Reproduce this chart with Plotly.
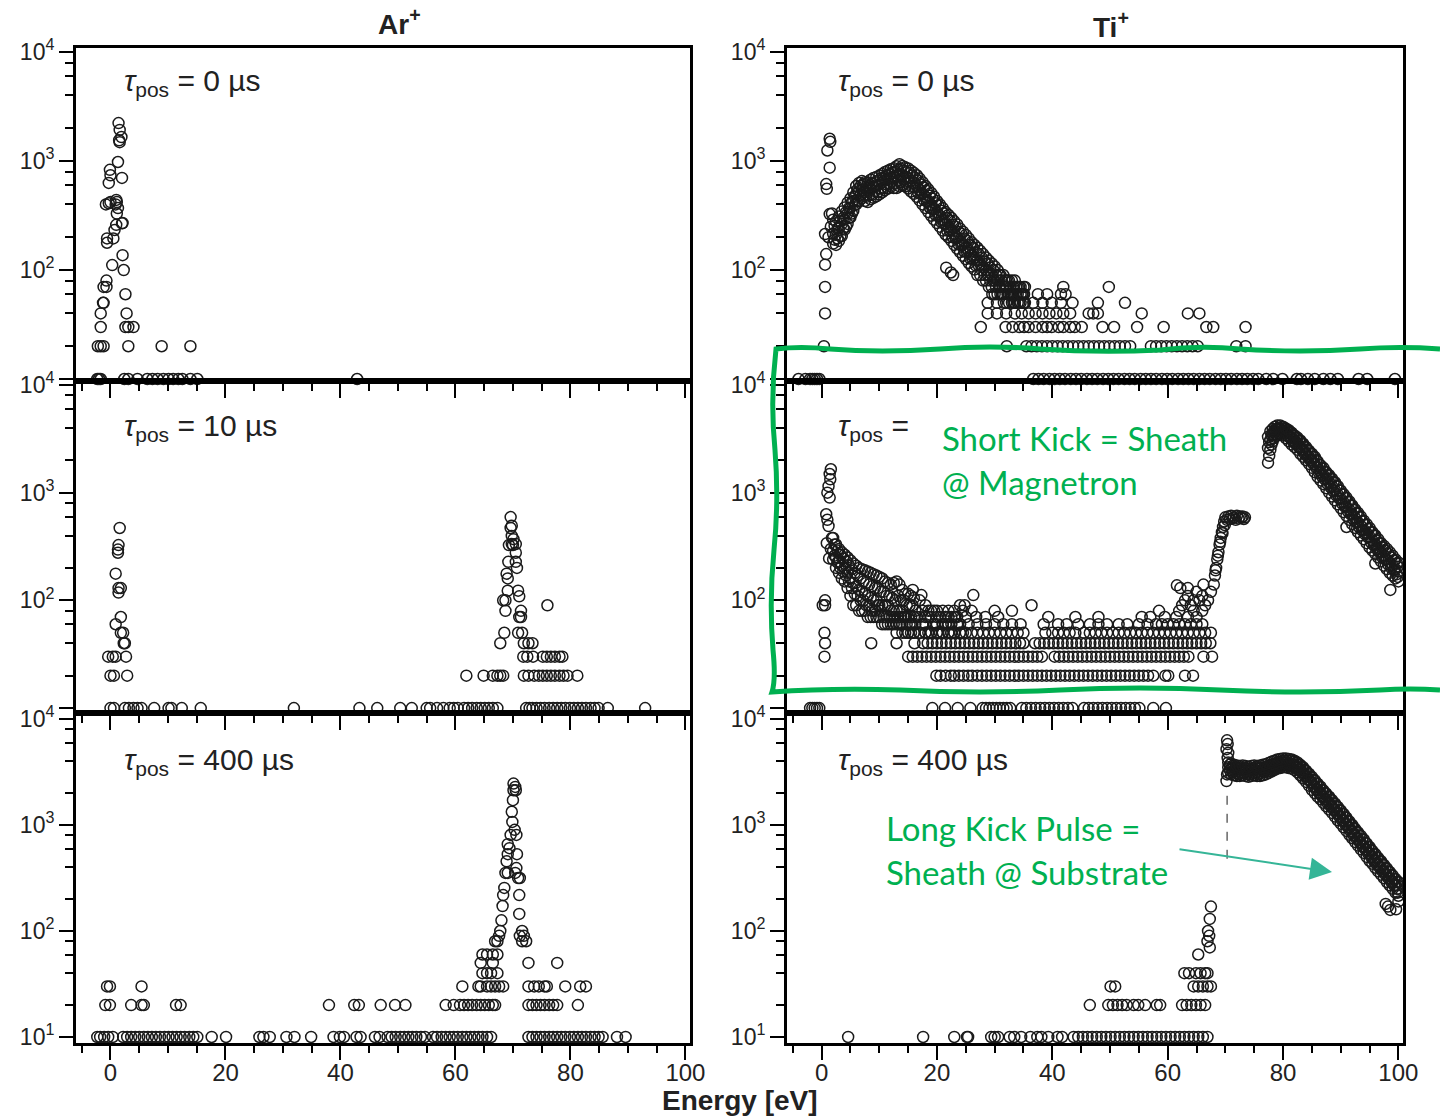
import plotly.graph_objects as go

# ---------------- DATA ----------------
# Ar+  tau_pos = 0 us
ar0_x10 = [-2.3, -2.0, -1.7, 2.4, 3.1, 4.7, 6.4, 7.3, 8.2, 9.2, 10.1, 10.9, 11.8, 12.5, 13.9, 15.1, 42.9]
ar0_x20 = [-2.2, -1.7, -1.2, 3.1, 8.9, 13.9]
ar0_x30 = [-1.7, 2.6, 3.1, 4.0]
ar0_px = [-1.7, 2.8, -1.3, -1.2, 2.6, -1.2, -0.7, -0.7, 2.3, 0.3, 2.1, -0.6, 0.5, -0.6, 0.7, 2.0, 1.0, 1.1,
          1.3, -0.8, -0.3, 0.9, 0.0, 1.1, 1.0, -0.3, 2.0, 0.0, -0.1, 1.3, 1.6, 1.9, 1.6, 1.4, 1.5, 2.1]
ar0_py = [40, 40, 50, 50, 60, 70, 70, 80, 100, 111, 137, 195, 195, 178, 233, 268, 260, 330,
          370, 400, 410, 400, 420, 420, 440, 630, 700, 740, 830, 980, 1490, 1660, 1930, 2230, 1550, 270]

# Ar+  tau_pos = 10 us
ar10_x10 = [0, 0.6, 2.5, 3.2, 4.0, 4.7, 5.4, 7.6, 10.1, 10.6, 12.4, 15.7, 31.9, 43.3, 46.4, 50.4, 52.4, 55.0,
            55.6, 56.8, 57.9, 59.0, 59.7, 60.4, 61.5, 62.2, 62.9, 63.7, 64.4, 65.1, 65.8, 66.5, 67.3, 72.3,
            72.9, 73.4, 74.1, 74.8, 75.5, 76.3, 77.0, 77.7, 78.4, 79.1, 79.9, 80.6, 81.3, 82.0, 82.7, 83.5,
            84.2, 84.9, 86.5, 93.0]
ar10_x20 = [0, 0.6, 2.9, 61.9, 64.9, 66.5, 67.3, 67.8, 68.3, 71.9, 72.7, 73.7, 74.5, 75.2, 75.9, 76.6, 77.3,
            78.1, 78.8, 79.5, 81.2]
ar10_x30 = [-0.4, 0.4, 0.9, 2.7, 71.8, 72.5, 73.5, 75.2, 75.9, 76.6, 77.3, 78.1, 78.6]
ar10_x40 = [2.3, 2.5, 67.8, 71.9, 72.7, 73.4]
ar10_px = [1.8, 2.2, 68.5, 70.9, 71.6, 0.9, 1.8, 71.1, 71.4, 68.7, 71.4, 76.0, 68.3, 68.7, 71.1, 69.1, 70.9,
           1.4, 1.8, 1.4, 0.9, 68.9, 69.1, 70.7, 69.2, 70.5, 1.3, 70.5, 1.3, 1.4, 69.3, 70.0, 69.8, 70.5,
           69.8, 1.6, 69.6, 69.8, 69.6, 70.1]
ar10_py = [50, 50, 50, 50, 50, 60, 70, 70, 70, 80, 80, 90, 100, 100, 109, 123, 123,
           130, 130, 118, 177, 177, 160, 200, 228, 228, 277, 277, 296, 326, 326, 326, 333, 333,
           397, 470, 470, 494, 593, 370]

# Ar+  tau_pos = 400 us
ar400_x10 = [-2.3, -1.8, -1.1, -0.4, 0.4, 2.2, 2.9, 3.6, 4.3, 5.0, 5.8, 6.5, 7.2, 7.9, 8.6, 9.4, 10.1, 10.8,
             11.5, 12.2, 12.9, 13.7, 14.4, 15.1, 17.6, 20.1, 25.9, 26.6, 27.7, 30.6, 32.0, 34.9, 38.8, 39.9,
             40.6, 42.8, 43.5, 46.0, 46.8, 48.2, 48.9, 49.6, 50.4, 51.1, 51.8, 52.5, 53.2, 54.0, 54.7, 56.1,
             56.8, 57.6, 58.3, 59.0, 59.7, 60.4, 61.2, 61.9, 62.6, 63.3, 64.0, 64.7, 65.5, 66.2, 72.7, 73.4,
             74.1, 74.8, 75.5, 76.3, 77.0, 77.7, 78.4, 79.1, 79.9, 80.6, 81.3, 82.0, 82.7, 83.5, 84.2, 84.9,
             85.6, 88.1, 89.6]
ar400_x20 = [-0.9, -0.1, 3.6, 5.4, 5.8, 11.4, 12.2, 38.0, 42.4, 43.2, 47.0, 49.5, 51.3, 58.3, 59.7, 60.8,
             61.5, 62.2, 62.9, 63.7, 64.4, 65.1, 65.8, 66.5, 66.9, 72.7, 73.4, 74.1, 74.8, 75.5, 76.3, 77.0,
             77.7, 81.3]
ar400_x30 = [-0.6, -0.1, 5.4, 61.2, 64.0, 64.4, 65.5, 66.2, 66.9, 67.6, 68.3, 72.7, 73.7, 74.5, 75.5, 75.9,
             79.1, 81.7, 82.7]
ar400_x40 = [64.7, 65.5, 66.2, 67.3]
ar400_x50 = [64.4, 66.5, 77.7, 72.7]
ar400_px = [64.7, 65.5, 66.5, 67.3, 66.9, 67.3, 71.6, 72.3, 67.6, 71.2, 71.9, 67.8, 71.6, 68.0, 71.1, 68.2,
            68.3, 71.1, 68.5, 70.9, 71.2, 68.7, 69.1, 70.4, 70.6, 68.9, 69.1, 70.7, 69.4, 69.1, 69.6, 70.6,
            69.9, 70.3, 69.8, 70.0, 70.1, 70.5, 70.4, 70.1]
ar400_py = [60, 60, 60, 60, 80, 80, 80, 80, 90, 90, 90, 100, 100, 126, 145, 172,
            218, 218, 255, 316, 316, 353, 353, 353, 392, 454, 531, 531, 605, 659, 806, 806,
            1070, 900, 1333, 1716, 2130, 2130, 2290, 2460]

# Ti+  tau_pos = 0 us
ti0_bx = [2.0, 2.5, 3.0, 3.5, 4.0, 4.5, 5.0, 5.5, 6.0, 6.5, 7.0, 7.5, 8.0, 8.5, 9.0, 9.5, 10.0, 10.5, 11.0,
          11.5, 12.0, 12.5, 13.0, 13.5, 14.0, 14.5, 15.0, 15.5, 16.0, 16.5, 17.0, 17.5, 18.0, 18.5, 19.0,
          19.5, 20.0, 20.5, 21.0, 21.5, 22.0, 22.5, 23.0, 23.5, 24.0, 24.5, 25.0, 25.5, 26.0, 26.5, 27.0,
          27.5, 28.0, 28.5, 29.0, 29.5, 30.0, 30.5, 31.0, 31.5, 32.0, 32.5, 33.0, 33.5, 34.0, 34.5, 35.0]
ti0_bx2 = [2.25, 2.75, 3.25, 3.75, 4.25, 4.75, 5.25, 5.75, 6.25, 6.75, 7.25, 7.75, 8.25, 8.75, 9.25, 9.75,
           10.25, 10.75, 11.25, 11.75, 12.25, 12.75, 13.25, 13.75, 14.25, 14.75, 15.25, 15.75, 16.25, 16.75,
           17.25, 17.75, 18.25, 18.75, 19.25, 19.75, 20.25, 20.75, 21.25, 21.75, 22.25, 22.75, 23.25, 23.75,
           24.25, 24.75, 25.25, 25.75, 26.25, 26.75, 27.25, 27.75, 28.25, 28.75, 29.25, 29.75, 30.25, 30.75,
           31.25, 31.75, 32.25, 32.75, 33.25, 33.75, 34.25, 34.75, 35.25]
ti0_lo = [175, 170, 185, 205, 235, 265, 305, 350, 400, 430, 455, 430, 420, 445, 460, 475, 495, 515, 540, 560,
          580, 565, 565, 585, 600, 585, 560, 525, 500, 470, 435, 400, 370, 340, 315, 290, 270, 250, 230, 212,
          200, 185, 170, 157, 146, 135, 126, 116, 108, 101, 90, 90, 80, 80, 70, 70, 60, 60, 60, 60, 50, 50,
          50, 50, 50, 50, 50]
ti0_q1 = [190, 195, 205, 240, 250, 300, 330, 395, 440, 490, 480, 470, 485, 490, 530, 520, 560, 570, 610, 620,
          650, 620, 660, 640, 680, 630, 640, 580, 570, 510, 500, 440, 425, 375, 360, 320, 310, 275, 265, 230,
          228, 200, 195, 172, 168, 148, 145, 128, 125, 110, 110, 100, 90, 90, 80, 80, 70, 70, 60, 70, 60, 60,
          50, 60, 50, 60, 50]
ti0_mid = [215, 210, 240, 265, 290, 330, 370, 430, 500, 530, 540, 520, 530, 550, 580, 600, 610, 640, 670, 690,
           700, 720, 740, 760, 740, 720, 700, 660, 630, 590, 545, 505, 470, 430, 395, 365, 340, 315, 290, 265,
           250, 235, 215, 200, 185, 172, 160, 150, 138, 130, 122, 114, 106, 100, 90, 90, 80, 80, 70, 70, 70,
           60, 60, 60, 60, 60, 60]
ti0_q3 = [255, 240, 280, 300, 340, 370, 420, 470, 550, 590, 610, 570, 590, 620, 640, 660, 690, 700, 740, 760,
          780, 800, 830, 850, 820, 790, 780, 735, 700, 660, 610, 570, 530, 480, 450, 410, 390, 350, 330, 300,
          285, 260, 250, 225, 215, 195, 185, 170, 160, 145, 140, 130, 120, 115, 105, 100, 90, 90, 80, 80, 80,
          70, 70, 70, 70, 60, 70]
ti0_hi = [290, 280, 310, 345, 375, 415, 455, 515, 590, 630, 655, 640, 635, 675, 700, 715, 735, 760, 795, 815,
          840, 860, 895, 935, 900, 875, 855, 815, 780, 740, 690, 640, 590, 550, 510, 470, 430, 400, 370, 340,
          320, 300, 280, 262, 240, 225, 210, 195, 180, 170, 160, 150, 140, 130, 122, 115, 108, 100, 90, 90,
          80, 80, 80, 80, 70, 70, 70]
ti0_px = [1.4, 1.5, 1.0, 1.4, 0.8, 0.9, 1.4, 0.6, 0.8, 0.6, 0.6, 0.6, 0.4, 1.6, 1.2, 1.8, 21.6, 22.4, 22.8]
ti0_py = [1600, 1500, 1250, 870, 615, 556, 326, 214, 140, 112, 70, 40, 20, 250, 200, 330, 105, 95, 90]
ti0_x10 = [-4.0, -2.8, -2.0, -1.6, -1.2, -0.8, -0.4, 36.7, 37.6, 38.5, 39.5, 40.4, 41.3, 42.2, 43.2, 44.1,
           45.0, 46.0, 46.9, 47.8, 48.8, 49.7, 50.6, 51.5, 52.5, 53.4, 54.3, 55.3, 56.2, 57.1, 58.0, 59.0,
           59.9, 60.8, 61.8, 62.7, 63.6, 64.5, 65.5, 66.4, 67.3, 68.3, 69.2, 70.1, 71.0, 72.0, 72.9, 73.8,
           74.8, 75.7, 77.1, 78.3, 79.9, 82.4, 83.1, 84.3, 85.5, 87.0, 88.2, 89.5, 93.1, 94.6, 99.4]
ti0_x20 = [32.1, 35.5, 36.4, 37.3, 38.2, 39.1, 40.0, 40.9, 41.8, 42.7, 43.6, 44.5, 45.4, 46.3, 47.2, 48.1,
           49.0, 49.9, 50.8, 51.7, 52.6, 53.5, 57.1, 58.0, 58.9, 59.8, 60.7, 61.6, 62.5, 63.4, 64.3, 65.2,
           71.9, 73.5]
ti0_x30 = [27.6, 31.9, 33.1, 34.3, 35.1, 35.9, 37.1, 38.3, 39.1, 39.9, 41.1, 41.9, 43.1, 43.9, 45.1, 48.7,
           50.7, 54.7, 59.3, 66.7, 67.9, 73.5]
ti0_x40 = [28.8, 30.4, 32.0, 33.5, 34.7, 35.9, 37.1, 38.3, 39.5, 40.7, 41.9, 43.1, 46.3, 47.1, 47.9, 55.5,
           63.5, 65.5]
ti0_x50 = [28.8, 30.4, 31.6, 33.5, 35.1, 36.7, 38.3, 39.9, 41.5, 43.5, 47.9, 52.6]
ti0_x60 = [29.6, 32.3, 35.1, 37.5, 39.1, 41.5, 42.3]
ti0_x70 = [41.9, 49.8]

# Ti+  tau_pos = 10 us
ti10_bx = [2.0, 2.5, 3.0, 3.5, 4.0, 4.5, 5.0, 5.5, 6.0, 6.5, 7.0, 7.5, 8.0, 8.5, 9.0, 9.5, 10.0, 10.5, 11.0,
           11.5, 12.0, 12.5, 13.0, 13.5, 14.0, 14.5, 15.0, 15.5, 16.0, 17.0, 18.0, 19.0, 20.0, 21.0, 22.0,
           23.0, 24.0]
ti10_bx2 = [2.25, 2.75, 3.25, 3.75, 4.25, 4.75, 5.25, 5.75, 6.25, 6.75, 7.25, 7.75, 8.25, 8.75, 9.25, 9.75,
            10.25, 10.75, 11.25, 11.75, 12.25, 12.75, 13.25, 13.75, 14.25, 14.75, 15.25, 15.75, 16.25, 17.5,
            18.5, 19.5, 20.5, 21.5, 22.5, 23.5, 24.5]
ti10_lo = [240, 200, 180, 160, 150, 130, 110, 90, 90, 80, 80, 80, 70, 70, 70, 70, 70, 60, 60, 60, 60, 60, 60,
           60, 60, 50, 50, 50, 50, 50, 50, 50, 50, 50, 50, 50, 50]
ti10_q1 = [260, 225, 200, 185, 170, 150, 130, 115, 110, 100, 100, 90, 90, 80, 80, 90, 80, 70, 70, 70, 70, 70,
           70, 70, 70, 60, 60, 60, 60, 60, 50, 60, 50, 60, 50, 60, 50]
ti10_mid = [290, 250, 230, 210, 200, 180, 160, 145, 135, 125, 120, 115, 110, 105, 100, 100, 90, 90, 90, 90,
            80, 80, 80, 80, 80, 70, 70, 70, 70, 70, 60, 70, 60, 60, 60, 70, 60]
ti10_q3 = [330, 290, 265, 245, 230, 210, 195, 180, 170, 160, 150, 145, 140, 135, 130, 130, 120, 120, 110, 110,
           105, 100, 110, 100, 100, 90, 90, 90, 80, 80, 70, 80, 70, 70, 70, 70, 80]
ti10_hi = [380, 330, 300, 280, 265, 250, 235, 220, 210, 200, 195, 190, 185, 180, 175, 170, 165, 160, 150, 145,
           140, 145, 150, 140, 125, 115, 115, 110, 105, 100, 90, 80, 80, 80, 70, 80, 90]
ti10_px = [1.6, 1.4, 1.5, 1.2, 1.0, 1.4, 0.8, 1.0, 1.2, 0.9, 1.3, 0.6, 0.6, 0.5, 0.6, 0.5, 1.8, 1.6,
           15.8, 17.3, 26.3, 24.8, 36.4, 61.6, 62.2, 0.2,
           62.5, 63.0, 63.5, 64.0, 64.5, 65.0, 65.5, 66.0, 66.5, 67.0, 67.5, 68.0, 68.2, 68.4, 68.6, 68.8,
           69.0, 69.2, 69.4, 69.6, 69.8, 70.0, 70.5, 71.0, 71.5, 72.0, 72.5, 73.0, 73.4, 63.5, 66.2,
           68.3, 68.7, 69.1, 69.5, 69.9, 70.3, 70.8, 71.3, 71.8, 72.3, 72.8, 73.2]
ti10_py = [1650, 1490, 1330, 1150, 1000, 900, 630, 560, 490, 340, 245, 100, 90, 50, 40, 30, 380, 300,
           125, 112, 112, 90, 90, 138, 130, 90,
           90, 100, 110, 90, 100, 120, 100, 110, 90, 100, 120, 140, 170, 200, 240, 280,
           330, 380, 430, 480, 540, 590, 600, 610, 590, 610, 600, 600, 590, 130, 140,
           190, 260, 350, 420, 500, 560, 570, 580, 560, 575, 585, 570]
ti10r_x = [77.4, 77.8, 78.2, 78.6, 79.0, 79.5, 80.0, 80.5, 81.0, 81.5, 82.0, 82.5, 83.0, 83.5, 84.0, 84.5,
           85.0, 85.5, 86.0, 86.5, 87.0, 87.5, 88.0, 88.5, 89.0, 89.5, 90.0, 90.5, 91.0, 91.5, 92.0, 92.5,
           93.0, 93.5, 94.0, 94.5, 95.0, 95.5, 96.0, 96.5, 97.0, 97.5, 98.0, 98.5, 99.0, 99.5, 100.0]
ti10r_x2 = [77.6, 78.0, 78.4, 78.8, 79.25, 79.75, 80.25, 80.75, 81.25, 81.75, 82.25, 82.75, 83.25, 83.75,
            84.25, 84.75, 85.25, 85.75, 86.25, 86.75, 87.25, 87.75, 88.25, 88.75, 89.25, 89.75, 90.25, 90.75,
            91.25, 91.75, 92.25, 92.75, 93.25, 93.75, 94.25, 94.75, 95.25, 95.75, 96.25, 96.75, 97.25, 97.75,
            98.25, 98.75, 99.25, 99.75, 99.9]
ti10r_lo = [1900, 2500, 3000, 3300, 3400, 3500, 3400, 3200, 3000, 2800, 2650, 2500, 2300, 2150, 2000, 1850,
            1700, 1550, 1400, 1300, 1200, 1100, 1000, 920, 850, 780, 720, 660, 610, 560, 510, 470, 430, 400,
            370, 340, 310, 290, 270, 250, 230, 210, 195, 180, 170, 160, 150]
ti10r_q1 = [2200, 2800, 3200, 3500, 3600, 3650, 3600, 3350, 3250, 2950, 2850, 2650, 2500, 2300, 2150, 2000,
            1850, 1700, 1520, 1420, 1330, 1200, 1120, 1030, 940, 880, 790, 740, 670, 630, 560, 530, 475, 445,
            410, 385, 345, 325, 300, 280, 250, 240, 215, 200, 190, 175, 165]
ti10r_mid = [2600, 3100, 3500, 3700, 3800, 3900, 3800, 3600, 3400, 3200, 3000, 2850, 2650, 2500, 2300, 2150,
             2000, 1850, 1700, 1550, 1450, 1350, 1250, 1150, 1050, 960, 880, 810, 740, 690, 630, 580, 530,
             490, 450, 420, 390, 360, 330, 300, 280, 260, 240, 225, 210, 195, 185]
ti10r_q3 = [2950, 3400, 3700, 3900, 4000, 4050, 3950, 3800, 3600, 3400, 3200, 3050, 2850, 2650, 2500, 2300,
            2150, 2000, 1820, 1680, 1560, 1450, 1350, 1250, 1150, 1050, 960, 890, 820, 760, 690, 640, 590,
            540, 500, 460, 430, 400, 360, 340, 310, 290, 270, 250, 235, 220, 205]
ti10r_hi = [3300, 3700, 3900, 4100, 4200, 4200, 4100, 3950, 3800, 3600, 3400, 3250, 3050, 2850, 2650, 2450,
            2300, 2150, 1950, 1800, 1700, 1550, 1450, 1350, 1250, 1150, 1050, 970, 900, 830, 760, 700, 650,
            600, 550, 510, 470, 430, 400, 370, 340, 320, 300, 280, 260, 240, 225]
ti10r_px = [91.0, 98.6, 96.0]
ti10r_py = [480, 125, 220]
ti10_x10 = [-2.0, -1.6, -1.2, -0.8, -0.4, 19.2, 21.4, 23.6, 25.8, 27.9, 28.5, 29.1, 29.7, 30.3, 30.9, 31.5,
            32.1, 32.7, 34.7, 35.5, 36.3, 37.1, 37.9, 38.7, 39.5, 40.3, 41.1, 41.9, 42.7, 43.5, 45.5, 46.3,
            47.1, 47.9, 48.7, 49.5, 50.3, 51.1, 51.9, 52.7, 53.5, 54.3, 55.1, 57.5, 59.7]
ti10_x20 = [19.9, 20.6, 21.5, 22.4, 23.0, 23.8, 24.6, 25.4, 26.1, 27.0, 27.8, 28.6, 29.4, 30.2, 31.0, 31.8,
            32.6, 33.4, 34.2, 35.0, 35.8, 36.6, 37.4, 38.2, 39.0, 39.8, 40.6, 41.4, 42.2, 43.0, 43.8, 44.6,
            45.4, 46.2, 47.0, 47.8, 48.6, 49.4, 50.2, 51.0, 51.8, 52.6, 53.4, 54.2, 55.0, 55.8, 56.6, 57.5,
            59.6, 60.1, 63.0, 64.4]
ti10_x30 = [15.0, 15.8, 16.6, 17.4, 18.2, 19.0, 19.8, 20.6, 21.4, 22.2, 23.0, 23.8, 24.6, 25.4, 26.2, 27.0,
            27.8, 28.6, 29.4, 30.2, 31.0, 31.8, 32.6, 33.4, 34.2, 35.0, 35.8, 36.6, 37.4, 38.2, 40.4, 41.2,
            42.0, 42.8, 43.6, 44.4, 45.2, 46.0, 46.8, 47.6, 48.4, 49.2, 50.0, 50.8, 51.6, 52.4, 53.2, 54.0,
            54.8, 55.6, 56.4, 57.2, 58.0, 58.8, 59.6, 60.4, 61.2, 62.0, 62.8, 63.6, 66.2, 67.7]
ti10_x40 = [8.6, 13.0, 16.1, 17.6, 18.4, 19.2, 20.0, 20.8, 21.6, 22.4, 23.2, 24.0, 24.8, 25.6, 26.4, 27.2,
            28.0, 28.8, 29.6, 30.4, 31.2, 32.0, 32.8, 33.6, 34.4, 35.0, 37.0, 37.8, 38.6, 39.4, 40.2, 41.0,
            41.8, 42.6, 43.4, 44.2, 45.0, 45.8, 46.6, 47.4, 48.2, 49.0, 49.8, 50.6, 51.4, 52.2, 53.0, 53.8,
            54.6, 55.4, 56.2, 57.0, 57.8, 58.6, 59.4, 60.2, 61.0, 61.8, 62.6, 63.4, 64.2, 65.0, 65.8, 66.6,
            67.4]
ti10_x50 = [13.0, 14.0, 15.0, 16.0, 17.0, 18.0, 19.0, 20.0, 21.0, 22.0, 23.0, 24.0, 25.0, 26.0, 27.0, 28.0,
            29.0, 30.0, 31.0, 32.0, 33.0, 34.0, 35.0, 38.8, 40.0, 41.0, 42.0, 43.0, 44.0, 45.5, 46.5, 47.5,
            48.5, 49.5, 50.5, 51.5, 52.5, 53.5, 54.5, 55.5, 56.5, 57.5, 58.5, 59.5, 60.5, 61.5, 62.5, 63.5,
            64.5, 65.5, 66.5, 67.5]
ti10_x60 = [13.5, 15.5, 17.5, 19.5, 21.0, 22.5, 24.0, 25.5, 27.0, 28.5, 30.0, 31.5, 33.0, 34.5, 38.5, 41.0,
            42.5, 44.5, 46.5, 48.0, 49.5, 51.5, 53.0, 55.0, 56.5, 58.0, 59.0, 60.0, 61.0, 62.0, 63.0, 64.0,
            65.0, 66.0]
ti10_x70 = [14.5, 16.5, 18.0, 20.0, 21.5, 23.2, 25.0, 26.8, 28.4, 30.6, 39.3, 44.0, 48.0, 55.5, 57.0, 59.5,
            61.5, 63.5, 65.0]
ti10_x80 = [18.5, 22.0, 26.0, 30.0, 33.0, 58.5, 62.0, 64.5, 66.0]

# Ti+  tau_pos = 400 us
ti400_x10 = [4.6, 17.6, 23.0, 25.2, 25.4, 29.4, 30.0, 30.6, 32.6, 33.4, 34.6, 36.2, 37.4, 38.1, 39.3, 40.9,
             41.7, 43.7, 44.5, 45.3, 46.1, 46.9, 47.7, 48.5, 49.3, 50.1, 50.9, 51.7, 52.5, 53.3, 54.1, 54.9,
             55.7, 56.5, 57.3, 58.1, 58.9, 59.7, 60.5, 61.3, 62.1, 62.9, 63.7, 64.5, 65.3, 66.1, 66.9]
ti400_x20 = [46.5, 49.7, 50.5, 51.3, 52.1, 52.9, 54.1, 54.9, 56.1, 58.1, 58.7, 62.5, 63.3, 64.1, 64.9, 65.7,
             66.5]
ti400_x30 = [50.1, 50.9, 64.5, 65.3, 66.1, 66.9, 67.5]
ti400_x40 = [62.9, 63.7, 64.9, 65.7, 66.9]
ti400_px = [65.3, 67.3, 66.9, 67.0, 67.3, 67.5, 67.2, 66.5,
            70.3, 70.4, 70.2, 70.5, 70.3, 70.2, 70.4, 98.6, 98.2, 97.8, 99.6, 100.0]
ti400_py = [60, 70, 80, 100, 130, 170, 90, 40,
            6300, 5800, 5200, 4800, 3000, 2600, 4300, 158, 170, 180, 160, 190]
ti400_bx = [70.5, 71.0, 71.5, 72.0, 72.5, 73.0, 73.5, 74.0, 74.5, 75.0, 75.5, 76.0, 76.5, 77.0, 77.5, 78.0,
            78.5, 79.0, 79.5, 80.0, 80.5, 81.0, 81.5, 82.0, 82.5, 83.0, 83.5, 84.0, 84.5, 85.0, 85.5, 86.0,
            86.5, 87.0, 87.5, 88.0, 88.5, 89.0, 89.5, 90.0, 90.5, 91.0, 91.5, 92.0, 92.5, 93.0, 93.5, 94.0,
            94.5, 95.0, 95.5, 96.0, 96.5, 97.0, 97.5, 98.0, 98.5, 99.0, 99.5, 100.0]
ti400_bx2 = [70.75, 71.25, 71.75, 72.25, 72.75, 73.25, 73.75, 74.25, 74.75, 75.25, 75.75, 76.25, 76.75,
             77.25, 77.75, 78.25, 78.75, 79.25, 79.75, 80.25, 80.75, 81.25, 81.75, 82.25, 82.75, 83.25,
             83.75, 84.25, 84.75, 85.25, 85.75, 86.25, 86.75, 87.25, 87.75, 88.25, 88.75, 89.25, 89.75,
             90.25, 90.75, 91.25, 91.75, 92.25, 92.75, 93.25, 93.75, 94.25, 94.75, 95.25, 95.75, 96.25,
             96.75, 97.25, 97.75, 98.25, 98.75, 99.25, 99.75, 99.9]
ti400_lo = [3100, 3000, 2950, 2900, 2900, 2950, 2900, 2850, 2900, 2950, 2900, 2900, 2950, 3000, 3100, 3200,
            3300, 3400, 3450, 3500, 3500, 3450, 3400, 3300, 3150, 2950, 2750, 2550, 2350, 2150, 2000, 1850,
            1750, 1620, 1500, 1400, 1300, 1200, 1110, 1030, 950, 880, 810, 750, 690, 640, 590, 545, 500, 460,
            430, 395, 365, 340, 315, 290, 270, 250, 230, 215]
ti400_q1 = [3300, 3150, 3100, 3050, 3100, 3100, 3050, 3000, 3100, 3100, 3050, 3100, 3150, 3200, 3250, 3400,
            3450, 3600, 3600, 3700, 3650, 3600, 3550, 3500, 3300, 3150, 2900, 2700, 2550, 2300, 2150, 2000,
            1870, 1740, 1600, 1500, 1400, 1300, 1200, 1100, 1020, 950, 870, 800, 740, 690, 630, 590, 540, 500,
            460, 425, 395, 365, 340, 315, 290, 270, 250, 230]
ti400_mid = [3500, 3400, 3300, 3250, 3250, 3300, 3250, 3200, 3250, 3300, 3250, 3250, 3300, 3350, 3450, 3550,
             3650, 3750, 3800, 3850, 3850, 3800, 3750, 3650, 3500, 3300, 3100, 2900, 2700, 2500, 2300, 2150,
             2000, 1850, 1730, 1620, 1500, 1390, 1290, 1190, 1100, 1020, 940, 870, 800, 740, 680, 630, 580,
             540, 500, 460, 425, 395, 365, 340, 315, 290, 270, 250]
ti400_q3 = [3700, 3600, 3500, 3450, 3400, 3480, 3420, 3380, 3420, 3480, 3420, 3450, 3500, 3550, 3650, 3750,
            3850, 3950, 4000, 4050, 4050, 4000, 3950, 3850, 3700, 3500, 3300, 3050, 2850, 2650, 2450, 2300,
            2150, 2000, 1850, 1730, 1600, 1500, 1380, 1280, 1180, 1090, 1000, 930, 860, 790, 730, 680, 620,
            580, 530, 495, 455, 425, 390, 365, 335, 310, 290, 270]
ti400_hi = [3900, 3800, 3700, 3650, 3600, 3650, 3600, 3550, 3600, 3650, 3600, 3650, 3700, 3750, 3850, 3950,
            4050, 4150, 4200, 4250, 4250, 4200, 4150, 4050, 3900, 3700, 3500, 3250, 3050, 2850, 2650, 2450,
            2300, 2120, 1980, 1850, 1720, 1600, 1480, 1370, 1270, 1170, 1080, 1000, 920, 850, 790, 730, 670,
            620, 570, 530, 490, 455, 420, 390, 360, 335, 310, 290]
ti400_dash_x = [70.3, 70.3]
ti400_dash_y = [480, 2100]

panel_titles = ["<i>τ</i><sub>pos</sub> = 0 µs", "<i>τ</i><sub>pos</sub> = 0 µs",
                "<i>τ</i><sub>pos</sub> = 10 µs", "<i>τ</i><sub>pos</sub> =",
                "<i>τ</i><sub>pos</sub> = 400 µs", "<i>τ</i><sub>pos</sub> = 400 µs"]
y_tick_vals = [10, 100, 1000, 10000]
y_minor_vals = [20, 40, 60, 80, 200, 400, 600, 800, 2000, 4000, 6000, 8000]

# ---------------- FIGURE ----------------
W, H = 1440, 1118


def fx(p):
    return p / W


def fy(p):
    return 1 - p / H


col_px = [(76, 690), (787, 1403)]
row_px = [(48, 381), (381, 713), (713, 1043)]
row_yrange = [[0.982, 4.037], [0.954, 4.037], [0.943, 4.057]]


def rows(levels):
    xs, ys = [], []
    for lv, lst in levels:
        xs += lst
        ys += [lv] * len(lst)
    return xs, ys


def band(pairs):
    xs, ys = [], []
    for bx, yl in pairs:
        xs += bx
        ys += yl
    return xs, ys


panels = {}
x, y = rows([(10, ar0_x10), (20, ar0_x20), (30, ar0_x30)])
panels[0] = (x + ar0_px, y + ar0_py)
x, y = rows([(10, ti0_x10), (20, ti0_x20), (30, ti0_x30), (40, ti0_x40), (50, ti0_x50), (60, ti0_x60),
             (70, ti0_x70)])
bx, by = band([(ti0_bx, ti0_lo), (ti0_bx2, ti0_q1), (ti0_bx, ti0_mid), (ti0_bx2, ti0_q3), (ti0_bx, ti0_hi)])
panels[1] = (x + ti0_px + bx, y + ti0_py + by)
x, y = rows([(10, ar10_x10), (20, ar10_x20), (30, ar10_x30), (40, ar10_x40)])
panels[2] = (x + ar10_px, y + ar10_py)
x, y = rows([(10, ti10_x10), (20, ti10_x20), (30, ti10_x30), (40, ti10_x40), (50, ti10_x50), (60, ti10_x60),
             (70, ti10_x70), (80, ti10_x80)])
bx, by = band([(ti10_bx, ti10_lo), (ti10_bx2, ti10_q1), (ti10_bx, ti10_mid), (ti10_bx2, ti10_q3),
               (ti10_bx, ti10_hi)])
rx, ry = band([(ti10r_x, ti10r_lo), (ti10r_x2, ti10r_q1), (ti10r_x, ti10r_mid), (ti10r_x2, ti10r_q3),
               (ti10r_x, ti10r_hi)])
panels[3] = (x + ti10_px + bx + rx + ti10r_px, y + ti10_py + by + ry + ti10r_py)
x, y = rows([(10, ar400_x10), (20, ar400_x20), (30, ar400_x30), (40, ar400_x40), (50, ar400_x50)])
panels[4] = (x + ar400_px, y + ar400_py)
x, y = rows([(10, ti400_x10), (20, ti400_x20), (30, ti400_x30), (40, ti400_x40)])
bx, by = band([(ti400_bx, ti400_lo), (ti400_bx2, ti400_q1), (ti400_bx, ti400_mid), (ti400_bx2, ti400_q3),
               (ti400_bx, ti400_hi)])
panels[5] = (x + ti400_px + bx, y + ti400_py + by)

fig = go.Figure()
layout = dict(width=W, height=H, margin=dict(l=0, r=0, t=0, b=0), autosize=False,
              paper_bgcolor="white", plot_bgcolor="white", showlegend=False, template="none",
              font=dict(family="Liberation Sans, Arial, sans-serif", color="#222"))

for p in range(6):
    r, c = divmod(p, 2)
    n = p + 1
    xa = "x" if n == 1 else f"x{n}"
    ya = "y" if n == 1 else f"y{n}"
    xs, ys = panels[p]
    fig.add_trace(go.Scatter(x=xs, y=ys, mode="markers", xaxis=xa, yaxis=ya,
                             marker=dict(symbol="circle-open", size=11, color="#1a1a1a",
                                         line=dict(width=1.5)),
                             cliponaxis=False, hoverinfo="skip"))
    if p == 5:
        fig.add_trace(go.Scatter(x=ti400_dash_x, y=ti400_dash_y, mode="lines", xaxis=xa, yaxis=ya,
                                 line=dict(color="#1a1a1a", width=1, dash="dash"), hoverinfo="skip"))
    l, rr = col_px[c]
    t, b = row_px[r]
    layout[f"xaxis{n}"] = dict(domain=[fx(l), fx(rr)], anchor=ya, range=[-6, 100.8],
                               showline=True, mirror=True, linewidth=3, linecolor="black",
                               ticks="outside", tickmode="linear", tick0=0, dtick=20, ticklen=14,
                               tickwidth=1.5, tickcolor="black",
                               minor=dict(dtick=5, tick0=0, ticks="outside", ticklen=7, tickwidth=1.5,
                                          tickcolor="black", showgrid=False),
                               showgrid=False, zeroline=False, showticklabels=(r == 2),
                               ticklabelstandoff=-8,
                               tickfont=dict(size=24, color="#222"), automargin=False)
    ttext = ["10<sup>1</sup>" if r == 2 else "", "10<sup>2</sup>", "10<sup>3</sup>", "10<sup>4</sup>"]
    layout[f"yaxis{n}"] = dict(domain=[fy(b), fy(t)], anchor=xa, type="log", range=row_yrange[r],
                               showline=True, mirror=True, linewidth=3, linecolor="black",
                               ticks="outside", tickmode="array", tickvals=y_tick_vals, ticktext=ttext,
                               ticklen=14, tickwidth=1.5, tickcolor="black",
                               minor=dict(tickmode="array", tickvals=y_minor_vals, ticks="outside",
                                          ticklen=8, tickwidth=1.5, tickcolor="black", showgrid=False),
                               showgrid=False, zeroline=False,
                               tickfont=dict(size=23, color="#222"), automargin=False)

annotations = []
tau_y = [83, 427, 761]
tau_x = [122, 836]
for p in range(6):
    r, c = divmod(p, 2)
    annotations.append(dict(text=panel_titles[p], x=fx(tau_x[c]), y=fy(tau_y[r]), xref="paper", yref="paper",
                            xanchor="left", yanchor="middle", showarrow=False,
                            font=dict(size=30, color="#222", family="Liberation Sans")))
annotations += [
    dict(text="<b>Ar<sup>+</sup></b>", x=fx(399), y=fy(22), xref="paper", yref="paper", showarrow=False,
         xanchor="center", yanchor="middle", font=dict(size=28, color="#222")),
    dict(text="<b>Ti<sup>+</sup></b>", x=fx(1111), y=fy(25), xref="paper", yref="paper", showarrow=False,
         xanchor="center", yanchor="middle", font=dict(size=28, color="#222")),
    dict(text="<b>Energy [eV]</b>", x=fx(740), y=fy(1100), xref="paper", yref="paper", showarrow=False,
         xanchor="center", yanchor="middle", font=dict(size=28, color="#222")),
]
green = "#00B050"
gfont = dict(size=33, color=green, family="Lato")
for txt, gx, gy in [("Short Kick = Sheath", 940, 438), ("@ Magnetron", 940, 482),
                    ("Long Kick Pulse =", 884, 828), ("Sheath @ Substrate", 884, 872)]:
    annotations.append(dict(text=txt, x=fx(gx), y=fy(gy), xref="paper", yref="paper", xanchor="left",
                            yanchor="middle", showarrow=False, font=gfont))
annotations.append(dict(text="", x=fx(1332), y=fy(872), xref="paper", yref="paper", showarrow=True,
                        ax=1178 - 1332, ay=849 - 872, axref="pixel", ayref="pixel",
                        arrowhead=2, arrowsize=2.2, arrowwidth=2, arrowcolor="#35B597"))
layout["annotations"] = annotations

# wavy green hand-drawn box (pixel coordinates converted to paper)
pts = [
    ("M", [(1440, 349)]),
    ("Q", [(1400, 346), (1360, 349)]), ("Q", [(1300, 353), (1240, 349)]),
    ("Q", [(1200, 345), (1160, 350)]), ("Q", [(1100, 353), (1040, 349)]),
    ("Q", [(990, 345), (940, 349)]), ("Q", [(880, 353), (830, 349)]),
    ("Q", [(800, 346), (776, 349)]),
    ("Q", [(770, 400), (775, 450)]), ("Q", [(779, 500), (774, 550)]),
    ("Q", [(769, 600), (773, 650)]), ("Q", [(776, 680), (772, 692)]),
    ("Q", [(830, 688), (900, 690)]), ("Q", [(980, 694), (1060, 690)]),
    ("Q", [(1140, 686), (1220, 690)]), ("Q", [(1300, 694), (1380, 690)]),
    ("Q", [(1410, 688), (1440, 690)]),
]
path = ""
for cmd, cps in pts:
    path += cmd + " " + " ".join(f"{fx(a):.5f},{fy(b):.5f}" for a, b in cps) + " "
layout["shapes"] = [dict(type="path", path=path.strip(), xref="paper", yref="paper",
                         line=dict(color=green, width=5), layer="above")]

fig.update_layout(**layout)
fig.write_html("out.html")
